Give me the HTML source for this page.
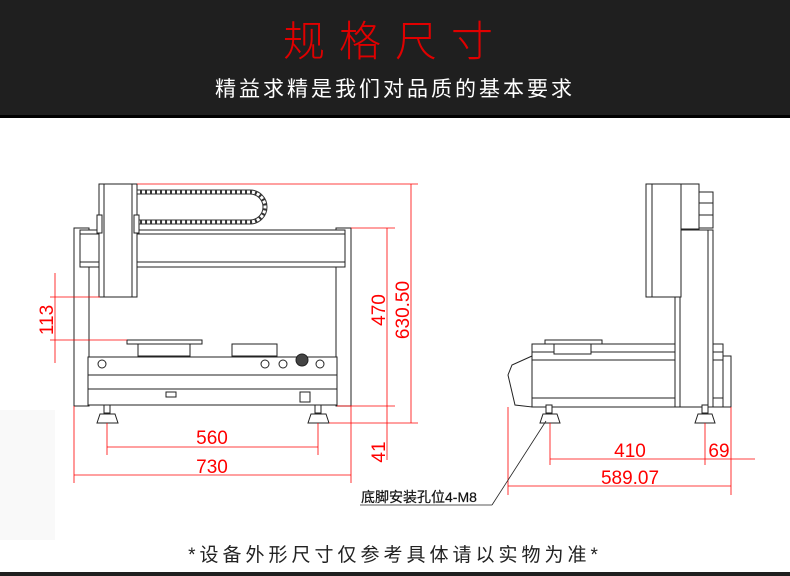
<!DOCTYPE html>
<html><head><meta charset="utf-8">
<style>
html,body{margin:0;padding:0;background:#fff;}
body{width:790px;height:576px;overflow:hidden;position:relative;font-family:"Liberation Sans","Noto Sans CJK SC",sans-serif;}
.banner{position:absolute;left:0;top:0;width:790px;height:115px;background:#1f1f1f;border-bottom:3px solid #000;}
.title{position:absolute;left:0;width:790px;top:8px;text-align:center;color:#e00000;font-size:42px;letter-spacing:14px;font-weight:300;}
.sub{position:absolute;left:0;width:790px;top:73px;text-align:center;color:#fff;font-size:21px;letter-spacing:3px;}
.foot{position:absolute;left:0;width:790px;top:540px;text-align:center;color:#222;font-size:19px;letter-spacing:4px;}
.bar{position:absolute;left:0;top:572px;width:790px;height:4px;background:#1f1f1f;}
svg{position:absolute;left:0;top:0;}
</style></head><body>
<div class="banner"><div class="title">规格尺寸</div><div class="sub">精益求精是我们对品质的基本要求</div></div>
<svg width="790" height="576" viewBox="0 0 790 576">
<rect x="0" y="410" width="55" height="130" fill="#f9f9f9"/>
<g fill="#fff" stroke="#222" stroke-width="1">
<rect x="74" y="228" width="15" height="178"/>
<rect x="336" y="228" width="15" height="178"/>
<rect x="80" y="230" width="265" height="37"/>
<line x1="80" y1="234" x2="345" y2="234"/>
<line x1="80" y1="262" x2="345" y2="262"/>
<line x1="89" y1="267" x2="89" y2="406"/><line x1="336" y1="267" x2="336" y2="406"/>
<path d="M137 192 H250 A15 15 0 0 1 250 222 H137" fill="none" stroke="#333" stroke-width="5"/>
<path d="M137 192 H250 A15 15 0 0 1 250 222 H137" fill="none" stroke="#fff" stroke-width="3" stroke-dasharray="3 2"/>
<rect x="99" y="184" width="38" height="113"/>
<line x1="104" y1="184" x2="104" y2="297"/><line x1="132" y1="184" x2="132" y2="297"/>
<rect x="97" y="215" width="5" height="18"/><rect x="134" y="215" width="5" height="18"/>
<rect x="127" y="340" width="75" height="4"/>
<rect x="138" y="344" width="52" height="12"/>
<rect x="232" y="344" width="45" height="12"/>
<rect x="88" y="357" width="249" height="48"/>
<line x1="88" y1="375" x2="337" y2="375"/><line x1="88" y1="389" x2="337" y2="389"/>
<circle cx="102" cy="364" r="4"/><circle cx="265" cy="364" r="4"/><circle cx="283" cy="364" r="4"/><circle cx="320" cy="364" r="4"/>
<circle cx="302" cy="360" r="6" fill="#444"/>
<rect x="166" y="392" width="10" height="5"/><rect x="300" y="392" width="10" height="10"/>
<rect x="104" y="405" width="6" height="8"/><path d="M97 423 L100 414 H115 L118 423 Z"/>
<rect x="315" y="405" width="6" height="8"/><path d="M308 423 L311 414 H326 L329 423 Z"/>
<rect x="532" y="344" width="191" height="63"/>
<line x1="532" y1="352" x2="723" y2="352"/><line x1="532" y1="360" x2="723" y2="360"/><line x1="532" y1="398" x2="723" y2="398"/>
<rect x="723" y="356" width="8" height="51"/>
<rect x="545" y="340" width="57" height="4"/><rect x="554" y="344" width="37" height="10"/>
<path d="M532 356 L512 365 L508 375 L515 405 L532 407 Z"/>
<rect x="675" y="230" width="38" height="177"/><line x1="680" y1="230" x2="680" y2="407"/><line x1="708" y1="230" x2="708" y2="407"/>
<rect x="646" y="184" width="35" height="113"/><line x1="652" y1="184" x2="652" y2="297"/>
<rect x="681" y="184" width="18" height="45"/>
<rect x="699" y="192" width="14" height="36"/><line x1="699" y1="203" x2="713" y2="203"/><line x1="699" y1="215" x2="713" y2="215"/>
<rect x="546" y="405" width="6" height="8"/><path d="M540 423 L543 414 H557 L560 423 Z"/>
<rect x="702" y="405" width="6" height="8"/><path d="M695 423 L698 414 H712 L715 423 Z"/>
</g>
<g stroke="#f00" stroke-width="0.8" fill="none">
<line x1="137" y1="184" x2="418" y2="184"/>
<line x1="351" y1="228" x2="395" y2="228"/><line x1="337" y1="406" x2="395" y2="406"/>
<line x1="329" y1="423" x2="418" y2="423"/>
<line x1="387" y1="228" x2="387" y2="460"/><line x1="411" y1="184" x2="411" y2="423"/>
<line x1="55" y1="273" x2="55" y2="363"/><line x1="50" y1="297" x2="100" y2="297"/><line x1="50" y1="340" x2="127" y2="340"/>
<line x1="107" y1="423" x2="107" y2="455"/><line x1="318" y1="423" x2="318" y2="455"/>
<line x1="107" y1="447" x2="318" y2="447"/>
<line x1="74" y1="406" x2="74" y2="483"/><line x1="351" y1="406" x2="351" y2="483"/>
<line x1="74" y1="475" x2="351" y2="475"/>
<line x1="550" y1="423" x2="550" y2="465"/><line x1="705" y1="423" x2="705" y2="465"/><line x1="731" y1="407" x2="731" y2="495"/>
<line x1="508" y1="407" x2="508" y2="495"/>
<line x1="550" y1="459" x2="755" y2="459"/><line x1="508" y1="486" x2="731" y2="486"/>
</g>
<g fill="#f00" font-family="Liberation Sans, sans-serif" font-size="19">
<text x="212" y="444" text-anchor="middle">560</text>
<text x="212" y="473" text-anchor="middle">730</text>
<text x="630" y="457" text-anchor="middle">410</text>
<text x="719" y="457" text-anchor="middle">69</text>
<text x="630" y="484" text-anchor="middle">589.07</text>
<text transform="translate(385,310) rotate(-90)" text-anchor="middle">470</text>
<text transform="translate(409,310) rotate(-90)" text-anchor="middle">630.50</text>
<text transform="translate(385,452) rotate(-90)" text-anchor="middle">41</text>
<text transform="translate(53,320) rotate(-90)" text-anchor="middle">113</text>
</g>
<g stroke="#222" stroke-width="0.8" fill="none">
<line x1="546" y1="421" x2="492" y2="505"/>
<line x1="360" y1="505" x2="492" y2="505"/>
</g>
<text x="361" y="502" font-size="14" fill="#111" stroke="#111" stroke-width="0.2" font-family="Liberation Sans, Noto Sans CJK SC, sans-serif">底脚安装孔位4-M8</text>
</svg>
<div class="foot">*设备外形尺寸仅参考具体请以实物为准*</div>
<div class="bar"></div>
</body></html>
